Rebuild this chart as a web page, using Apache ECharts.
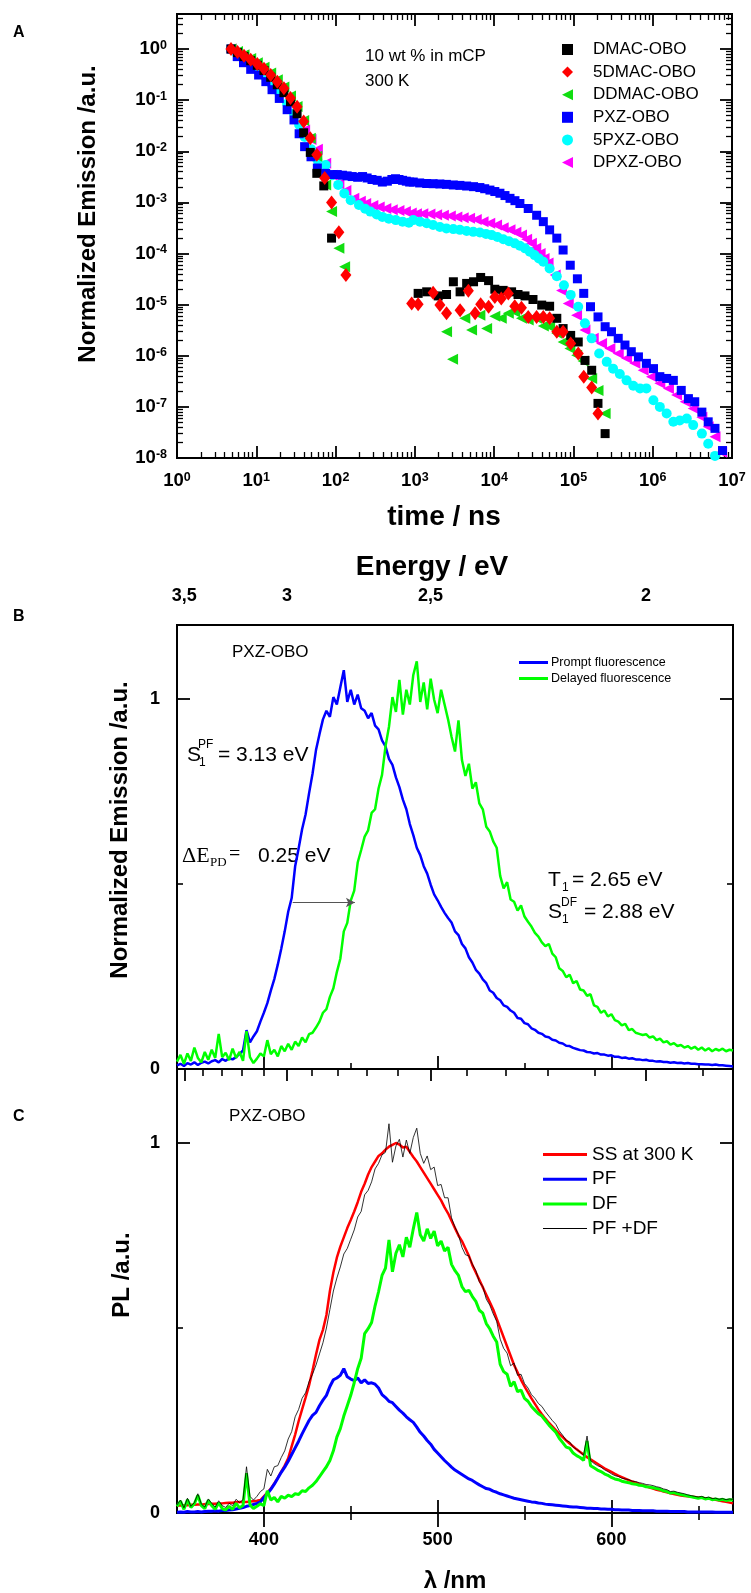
<!DOCTYPE html>
<html>
<head>
<meta charset="utf-8">
<script src="https://cdn.jsdelivr.net/npm/echarts@6.0.0/dist/echarts.min.js"></script>
<style>
html, body { margin: 0; padding: 0; background: #fff; }
#main { width: 751px; height: 1593px; }
</style>
</head>
<body>
<div id="main"></div>
<script>
// ---------- panel A : decay curves (time in ns, normalized emission) ----------
var dmacData = [[4.8,1.0],[5.8,0.85],[7.0,0.71],[8.5,0.59],[10.3,0.48],[12.5,0.38],[15.2,0.28],[18.4,0.20],[22.3,0.14],[27,0.093],[32.7,0.054],[39.6,0.023],[48,0.0095],[58,0.0037],[71,0.0021],[89,0.0002],
  [1100,1.66e-5],[1410,1.78e-5],[1970,1.48e-5],[2510,1.58e-5],[3060,2.8e-5],[3720,1.78e-5],[4500,2.6e-5],[5500,2.8e-5],[6760,3.4e-5],[8510,2.95e-5],[10200,2.0e-5],[13000,1.9e-5],[16600,1.78e-5],[20000,1.58e-5],[24500,1.48e-5],[30900,1.26e-5],[39800,9.8e-6],[50100,9.3e-6],[61700,5.4e-6],[74100,3.4e-6],[92300,2.5e-6],[115000,1.86e-6],[140000,8.1e-7],[170000,5.2e-7],[204000,1.17e-7],[251000,3.0e-8]];
var dmac5Data = [[4.8,1.0],[5.8,0.87],[7.0,0.74],[8.5,0.62],[10.3,0.51],[12.5,0.41],[15.2,0.31],[18.4,0.23],[22.3,0.17],[27,0.11],[32.7,0.074],[39.6,0.038],[48,0.018],[58,0.0085],[73,0.0030],[89,0.0010],[110,0.00026],[135,0.000038],
  [912,1.05e-5],[1100,1.02e-5],[1700,1.7e-5],[2070,9.8e-6],[2510,6.8e-6],[3720,7.8e-6],[4730,1.86e-5],[5750,6.8e-6],[6760,1.02e-5],[8510,9.1e-6],[10200,1.41e-5],[12300,1.32e-5],[15100,1.66e-5],[18200,9.3e-6],[22100,8.7e-6],[26900,5.75e-6],[34300,5.75e-6],[41700,5.75e-6],[50100,5.4e-6],[61700,2.95e-6],[74100,2.95e-6],[92300,1.74e-6],[115000,1.11e-6],[135000,3.9e-7],[170000,2.4e-7],[204000,7.4e-8]];
var ddmacData = [[4.8,1.0],[5.8,0.89],[7.0,0.77],[8.5,0.65],[10.3,0.54],[12.5,0.44],[15.2,0.34],[18.4,0.25],[22.3,0.18],[27,0.12],[32.7,0.075],[39.6,0.040],[48,0.018],[58,0.008],[75,0.0022],[89,0.00066],[110,0.000126],[130,0.000055],
  [2510,2.95e-6],[2990,8.5e-7],[4270,5.4e-6],[5190,3.2e-6],[6610,6.2e-6],[8040,3.4e-6],[10200,5.9e-6],[12300,5.4e-6],[15100,6.8e-6],[18200,7.2e-6],[22100,5.4e-6],[26900,5.0e-6],[34300,5.4e-6],[41700,3.8e-6],[50100,3.7e-6],[61700,2.75e-6],[74100,1.86e-6],[90200,1.38e-6],[110000,1.02e-6],[132000,7.9e-7],[170000,3.6e-7],[204000,2.1e-7],[251000,7.4e-8]];
var pxzData = [[4.8,1.0],[5.75,0.71],[6.9,0.54],[8.5,0.40],[10.7,0.31],[13.2,0.23],[15.8,0.16],[19.5,0.108],[24.5,0.065],[29.9,0.041],[34.7,0.022],[40.7,0.0123],[49,0.0078],[58.9,0.0047],[75,0.0037],[91,0.0035],[105,0.0035],[122,0.0034],[140,0.0033],[162,0.0032],[190,0.0031],[219,0.0032],[250,0.0030],[288,0.0028],[335,0.0027],[389,0.0025],[450,0.0026],[513,0.0028],[570,0.0029],[631,0.0028],[700,0.0027],[780,0.0026],[860,0.0025],[955,0.0025],[1150,0.0024],[1410,0.00234],[1700,0.00232],[2070,0.00229],[2500,0.00225],[3055,0.00219],[3700,0.00215],[4500,0.00209],[5500,0.00203],[6610,0.00195],[7600,0.00185],[8850,0.00174],[10200,0.00163],[11830,0.00151],[13700,0.00136],[15850,0.0012],[18300,0.00108],[21130,0.00095],[26900,0.00076],[34360,0.00056],[41700,0.00042],[50100,0.00029],[61700,0.0002],[74100,0.000117],[91200,5.9e-5],[112200,3.2e-5],[134900,1.66e-5],[164100,9.1e-6],[204200,5.75e-6],[251200,3.7e-6],[302000,2.95e-6],[367300,2.19e-6],[446700,1.62e-6],[537000,1.2e-6],[660700,9.5e-7],[831800,7.1e-7],[1023000,5.6e-7],[1230000,3.9e-7],[1500000,3.6e-7],[1820000,3.3e-7],[2290000,2.1e-7],[2820000,1.45e-7],[3390000,1.26e-7],[4170000,7.9e-8],[5010000,5.1e-8],[6100000,3.8e-8],[7590000,1.4e-8]];
var pxz5Data = [[4.8,1.0],[5.75,0.80],[6.9,0.64],[8.5,0.50],[10.7,0.38],[13.2,0.28],[15.8,0.20],[19.5,0.14],[24.5,0.085],[29.9,0.055],[34.7,0.033],[40.7,0.019],[49,0.011],[58.9,0.0068],[75,0.0054],[91,0.0034],[108,0.0022],[129,0.0015],[155,0.0011],[197,0.00089],[236,0.00075],[275,0.00066],[330,0.00058],[389,0.00052],[470,0.00048],[575,0.00045],[700,0.00042],[841,0.0004],[955,0.00045],[1160,0.00042],[1410,0.00039],[1700,0.00036],[2070,0.00033],[2500,0.00031],[3055,0.0003],[3700,0.00029],[4500,0.000275],[5450,0.000265],[6610,0.000257],[7900,0.000242],[9330,0.000229],[11000,0.00021],[13030,0.00019],[15400,0.000174],[18200,0.000158],[21100,0.000142],[24550,0.000126],[28200,0.000108],[32360,9.3e-5],[36700,8.0e-5],[41700,6.9e-5],[50100,5.1e-5],[61700,3.6e-5],[75900,2.4e-5],[92300,1.55e-5],[114800,9.1e-6],[139600,4.3e-6],[169800,2.19e-6],[211300,1.11e-6],[263000,7.6e-7],[316200,5.6e-7],[384600,4.4e-7],[467700,3.3e-7],[568900,2.6e-7],[691800,2.3e-7],[831800,2.3e-7],[1020000,1.35e-7],[1230000,1.0e-7],[1500000,7.4e-8],[1820000,5.1e-8],[2190000,5.4e-8],[2690000,5.9e-8],[3240000,4.4e-8],[4170000,3.0e-8],[5010000,1.9e-8],[6100000,1.1e-8]];
var dpxzData = [[4.8,1.0],[5.75,0.82],[6.9,0.66],[8.5,0.52],[10.7,0.40],[13.2,0.30],[15.8,0.22],[19.5,0.15],[24.5,0.092],[29.9,0.06],[34.7,0.036],[40.7,0.026],[49,0.017],[58.9,0.011],[75,0.0058],[91,0.0034],[110,0.0023],[135,0.0017],[170,0.0012],[205,0.00105],[240,0.00095],[295,0.00087],[355,0.00081],[430,0.00076],[519,0.00072],[630,0.00069],[759,0.00066],[900,0.00062],[1047,0.0006],[1260,0.0006],[1549,0.00059],[1880,0.00057],[2291,0.00056],[2800,0.00054],[3388,0.00052],[4070,0.0005],[4898,0.00049],[5950,0.00046],[7244,0.00042],[8800,0.00039],[10720,0.00036],[13000,0.00032],[15850,0.00029],[18800,0.00026],[22130,0.00023],[25700,0.00019],[29510,0.000158],[33500,0.000127],[38020,0.0001],[42600,8.0e-5],[47860,6.5e-5],[58880,3.8e-5],[70790,1.9e-5],[86100,1.05e-5],[109600,6.2e-6],[139600,3.2e-6],[177800,2.19e-6],[226500,1.74e-6],[288400,1.38e-6],[367300,1.11e-6],[467700,8.9e-7],[595700,7.1e-7],[758600,5.2e-7],[966100,3.9e-7],[1230000,2.9e-7],[1580000,2.3e-7],[2000000,1.7e-7],[2570000,1.26e-7],[3240000,9.3e-8],[4170000,6.3e-8],[5010000,4.1e-8],[6100000,2.6e-8],[7410000,1.3e-8]];

var timeDecades = [1, 10, 100, 1000, 1e4, 1e5, 1e6, 1e7];
var emisDecades = [1e-8, 1e-7, 1e-6, 1e-5, 1e-4, 1e-3, 1e-2, 1e-1, 1];

// ---------- panels B and C : spectra (wavelength in nm) ----------
var wl = [350,352,354,356,358,360,362,364,366,368,
  370,372,374,376,378,380,382,384,386,388,
  390,392,394,396,398,400,402,404,406,408,
  410,412,414,416,418,420,422,424,426,428,
  430,432,434,436,438,440,442,444,446,448,
  450,452,454,456,458,460,462,464,466,468,
  470,472,474,476,478,480,482,484,486,488,
  490,492,494,496,498,500,502,504,506,508,
  510,512,514,516,518,520,522,524,526,528,
  530,532,534,536,538,540,542,544,546,548,
  550,552,554,556,558,560,562,564,566,568,
  570,572,574,576,578,580,582,584,586,588,
  590,592,594,596,598,600,602,604,606,608,
  610,612,614,616,618,620,622,624,626,628,
  630,632,634,636,638,640,642,644,646,648,
  650,652,654,656,658,660,662,664,666,668,
  670];

var promptB = [0.010,0.014,0.008,0.016,0.012,0.018,0.011,0.017,0.020,0.015,
  0.021,0.024,0.018,0.027,0.022,0.029,0.026,0.032,0.041,0.050,
  0.105,0.072,0.088,0.102,0.128,0.152,0.178,0.212,0.243,0.282,
  0.325,0.372,0.425,0.462,0.548,0.596,0.648,0.688,0.745,0.798,
  0.862,0.905,0.945,0.968,0.952,1.005,0.985,1.032,1.078,0.992,
  1.025,0.985,1.012,0.975,0.968,0.948,0.962,0.928,0.918,0.888,
  0.872,0.838,0.822,0.788,0.762,0.728,0.702,0.662,0.632,0.598,
  0.578,0.548,0.528,0.498,0.472,0.456,0.438,0.422,0.408,0.396,
  0.372,0.362,0.338,0.326,0.302,0.288,0.268,0.258,0.242,0.232,
  0.212,0.206,0.192,0.186,0.172,0.168,0.158,0.152,0.138,0.136,
  0.124,0.121,0.110,0.106,0.098,0.095,0.088,0.086,0.079,0.077,
  0.071,0.069,0.063,0.062,0.057,0.054,0.051,0.050,0.046,0.045,
  0.042,0.043,0.039,0.039,0.036,0.037,0.033,0.033,0.030,0.031,
  0.028,0.029,0.026,0.026,0.024,0.025,0.022,0.022,0.020,0.021,
  0.019,0.019,0.017,0.018,0.016,0.017,0.015,0.016,0.014,0.014,
  0.013,0.013,0.012,0.012,0.011,0.012,0.010,0.010,0.009,0.008,
  0.007];
var delayedB = [0.020,0.038,0.014,0.042,0.022,0.058,0.030,0.018,0.046,0.025,
  0.052,0.030,0.095,0.032,0.044,0.024,0.055,0.030,0.046,0.022,
  0.102,0.032,0.016,0.028,0.042,0.034,0.078,0.040,0.052,0.034,
  0.062,0.048,0.068,0.052,0.074,0.062,0.085,0.072,0.094,0.098,
  0.112,0.128,0.152,0.162,0.195,0.218,0.262,0.298,0.372,0.395,
  0.455,0.482,0.558,0.592,0.628,0.645,0.692,0.702,0.758,0.795,
  0.872,0.925,1.005,0.965,1.052,0.958,1.025,0.985,1.065,1.102,
  0.992,1.045,0.972,1.055,0.998,0.962,1.025,0.985,0.945,0.898,
  0.858,0.942,0.835,0.792,0.825,0.758,0.775,0.718,0.702,0.655,
  0.642,0.615,0.598,0.522,0.488,0.505,0.458,0.452,0.428,0.442,
  0.412,0.398,0.385,0.368,0.358,0.342,0.332,0.338,0.312,0.302,
  0.272,0.265,0.248,0.255,0.232,0.238,0.215,0.212,0.198,0.202,
  0.172,0.168,0.152,0.158,0.142,0.148,0.132,0.128,0.118,0.122,
  0.105,0.108,0.098,0.095,0.092,0.094,0.085,0.088,0.078,0.082,
  0.072,0.075,0.066,0.070,0.062,0.065,0.058,0.062,0.055,0.060,
  0.052,0.058,0.050,0.056,0.048,0.054,0.050,0.055,0.048,0.052,
  0.050];

var steadyC = [0.020,0.020,0.021,0.021,0.022,0.022,0.023,0.023,0.024,0.024,
  0.025,0.025,0.026,0.026,0.027,0.028,0.028,0.029,0.030,0.030,
  0.030,0.031,0.032,0.033,0.035,0.045,0.055,0.066,0.080,0.095,
  0.112,0.128,0.148,0.180,0.212,0.248,0.280,0.312,0.345,0.385,
  0.428,0.468,0.495,0.535,0.600,0.650,0.690,0.720,0.745,0.770,
  0.792,0.815,0.840,0.868,0.890,0.915,0.935,0.950,0.965,0.972,
  0.982,0.990,0.995,1.000,0.996,0.988,0.990,0.976,0.962,0.950,
  0.935,0.920,0.905,0.890,0.875,0.860,0.845,0.826,0.810,0.790,
  0.770,0.750,0.735,0.715,0.695,0.670,0.650,0.630,0.610,0.590,
  0.570,0.550,0.525,0.500,0.475,0.450,0.425,0.400,0.380,0.360,
  0.342,0.326,0.310,0.295,0.280,0.267,0.255,0.244,0.234,0.224,
  0.214,0.205,0.196,0.188,0.180,0.172,0.165,0.158,0.151,0.145,
  0.139,0.133,0.127,0.121,0.116,0.111,0.106,0.101,0.097,0.093,
  0.089,0.085,0.082,0.078,0.075,0.072,0.069,0.066,0.063,0.061,
  0.058,0.056,0.053,0.051,0.049,0.047,0.046,0.045,0.044,0.043,
  0.042,0.041,0.040,0.039,0.038,0.036,0.034,0.032,0.030,0.028,
  0.026];
var promptC = [0.002,0.003,0.002,0.004,0.003,0.003,0.004,0.003,0.004,0.005,
  0.005,0.006,0.005,0.007,0.007,0.008,0.009,0.011,0.013,0.015,
  0.018,0.020,0.023,0.026,0.030,0.042,0.052,0.064,0.078,0.094,
  0.110,0.124,0.140,0.158,0.176,0.194,0.214,0.232,0.250,0.264,
  0.272,0.290,0.305,0.318,0.342,0.360,0.365,0.372,0.390,0.368,
  0.362,0.358,0.365,0.352,0.360,0.350,0.352,0.348,0.338,0.320,
  0.312,0.302,0.298,0.288,0.278,0.270,0.260,0.252,0.245,0.232,
  0.218,0.208,0.196,0.186,0.172,0.162,0.152,0.142,0.133,0.124,
  0.116,0.110,0.104,0.098,0.092,0.088,0.082,0.076,0.071,0.066,
  0.064,0.059,0.056,0.052,0.049,0.046,0.043,0.040,0.038,0.036,
  0.034,0.032,0.030,0.029,0.027,0.026,0.024,0.023,0.022,0.021,
  0.020,0.019,0.018,0.017,0.016,0.016,0.015,0.014,0.013,0.013,
  0.012,0.012,0.011,0.011,0.010,0.010,0.009,0.009,0.008,0.008,
  0.008,0.007,0.007,0.007,0.006,0.006,0.006,0.006,0.005,0.005,
  0.005,0.005,0.004,0.004,0.004,0.004,0.004,0.003,0.003,0.003,
  0.003,0.003,0.003,0.003,0.003,0.002,0.002,0.002,0.002,0.002,
  0.002];
var delayedC = [0.018,0.032,0.010,0.036,0.015,0.025,0.048,0.020,0.012,0.034,
  0.020,0.010,0.028,0.012,0.008,0.018,0.010,0.026,0.014,0.020,
  0.108,0.022,0.012,0.018,0.025,0.020,0.060,0.035,0.042,0.030,
  0.045,0.040,0.048,0.044,0.052,0.050,0.060,0.058,0.068,0.075,
  0.085,0.098,0.112,0.125,0.142,0.168,0.205,0.228,0.262,0.290,
  0.318,0.352,0.390,0.418,0.485,0.498,0.515,0.560,0.598,0.642,
  0.662,0.738,0.652,0.702,0.725,0.692,0.745,0.718,0.768,0.812,
  0.752,0.735,0.768,0.742,0.762,0.722,0.735,0.708,0.718,0.672,
  0.655,0.642,0.612,0.598,0.602,0.585,0.572,0.548,0.540,0.512,
  0.498,0.478,0.462,0.402,0.382,0.375,0.342,0.355,0.328,0.332,
  0.310,0.302,0.288,0.278,0.268,0.262,0.250,0.238,0.228,0.218,
  0.202,0.190,0.178,0.175,0.162,0.155,0.150,0.142,0.195,0.128,
  0.122,0.116,0.112,0.106,0.102,0.096,0.092,0.090,0.086,0.084,
  0.082,0.079,0.078,0.075,0.074,0.071,0.070,0.068,0.066,0.064,
  0.060,0.058,0.054,0.055,0.052,0.050,0.048,0.046,0.044,0.042,
  0.040,0.042,0.038,0.040,0.036,0.038,0.035,0.037,0.034,0.036,
  0.035];
var sumC = [0.022,0.035,0.014,0.040,0.018,0.028,0.052,0.024,0.016,0.038,
  0.026,0.016,0.033,0.020,0.015,0.026,0.020,0.037,0.028,0.036,
  0.125,0.045,0.035,0.045,0.058,0.065,0.118,0.100,0.125,0.128,
  0.150,0.168,0.200,0.220,0.260,0.280,0.310,0.325,0.355,0.375,
  0.400,0.430,0.460,0.500,0.550,0.600,0.635,0.665,0.700,0.715,
  0.740,0.765,0.800,0.815,0.860,0.872,0.895,0.930,0.945,0.968,
  0.975,1.052,0.948,0.992,1.010,0.962,1.008,0.972,1.015,1.040,
  0.972,0.945,0.965,0.928,0.935,0.885,0.888,0.852,0.852,0.798,
  0.772,0.752,0.718,0.698,0.695,0.672,0.655,0.625,0.612,0.578,
  0.562,0.538,0.518,0.470,0.445,0.432,0.398,0.405,0.372,0.375,
  0.350,0.338,0.320,0.310,0.296,0.288,0.274,0.262,0.250,0.240,
  0.222,0.210,0.196,0.192,0.178,0.172,0.165,0.156,0.208,0.142,
  0.134,0.128,0.124,0.117,0.112,0.106,0.101,0.099,0.094,0.092,
  0.090,0.086,0.085,0.082,0.080,0.077,0.076,0.074,0.071,0.069,
  0.065,0.063,0.058,0.059,0.056,0.054,0.052,0.049,0.047,0.045,
  0.043,0.045,0.041,0.043,0.039,0.040,0.037,0.039,0.036,0.038,
  0.037];

var wlMajor = [400, 500, 600];
var wlMinor = [450, 550, 650];
var energyMajor = [3.5, 3, 2.5, 2];
var energyMinor = [3.4, 3.3, 3.2, 3.1, 2.9, 2.8, 2.7, 2.6, 2.4, 2.3, 2.2, 2.1, 1.9];
var normMajor = [0, 1];
var normMinor = [0.5];
var arrowFrom = [416.6, 0.45];
var arrowTo = [452.4, 0.45];

// ---------- helpers ----------
var SANS = "'Liberation Sans', Arial, Helvetica, sans-serif";
var SERIF = "'Liberation Serif', 'Times New Roman', serif";
var HC = 1239.84; // eV*nm
var LEFT_TRI = 'path://M0,5L10,0L10,10Z';
// thin legend stroke: a 44x3 box whose filled band is 1px high
var THIN_LINE = 'path://M0,0L0.01,0L0,0.01Z M0,1L44,1L44,2L0,2Z M43.99,3L44,3L44,2.99Z';

function pairs(xs, ys) {
  return xs.map(function (x, i) { return [x, ys[i]]; });
}
function logMinor(d0, d1) {
  var out = [];
  for (var d = d0; d <= d1; d++) {
    for (var k = 2; k <= 9; k++) out.push(k * Math.pow(10, d));
  }
  return out;
}
function tickAxis(grid, pos, type, min, max, ticks, len, width) {
  var a = {
    type: type, gridIndex: grid, position: pos, min: min, max: max,
    axisLine: { show: false }, splitLine: { show: false },
    axisLabel: { show: false },
    axisTick: { show: true, inside: true, length: len, customValues: ticks,
      lineStyle: { color: '#000', width: width } }
  };
  if (type === 'log') a.logBase = 10;
  return a;
}
var richPow = {
  b: { fontSize: 18.5, fontWeight: 'bold', fontFamily: SANS, color: '#000', lineHeight: 20 },
  s: { fontSize: 12.5, fontWeight: 'bold', fontFamily: SANS, color: '#000', verticalAlign: 'top', lineHeight: 12 }
};
function powLabel(v) {
  return '{b|10}{s|' + Math.round(Math.log10(v)) + '}';
}
var boldLabel = { show: true, fontSize: 18, fontWeight: 'bold', fontFamily: SANS, color: '#000' };

// ---------- axes ----------
var xA = tickAxis(0, 'bottom', 'log', 1, 1e7, timeDecades, 12, 1.8);
xA.axisLabel = { show: true, customValues: timeDecades, margin: 13, formatter: powLabel, rich: richPow };
var yA = tickAxis(0, 'left', 'log', 1e-8, 4.84, emisDecades, 12, 1.8);
yA.axisLabel = { show: true, customValues: emisDecades, margin: 10, formatter: powLabel, rich: richPow };

var xBtop = tickAxis(1, 'top', 'value', 350, 670, energyMajor.map(function (e) { return HC / e; }), 12, 1.8);
xBtop.axisLabel = Object.assign({}, boldLabel, {
  customValues: energyMajor.map(function (e) { return HC / e; }), margin: 20,
  formatter: function (v) { return String(Math.round(HC / v * 10) / 10).replace('.', ','); }
});
var yB = tickAxis(1, 'left', 'value', 0, 1.2, normMajor, 13, 1.8);
yB.axisLabel = Object.assign({}, boldLabel, { customValues: normMajor, margin: 17 });
var xC = tickAxis(2, 'bottom', 'value', 350, 670, wlMajor, 13, 1.8);
xC.axisLabel = Object.assign({}, boldLabel, { customValues: wlMajor, margin: 18 });
var yC = tickAxis(2, 'left', 'value', 0, 1.2, normMajor, 13, 1.8);
yC.axisLabel = Object.assign({}, boldLabel, { customValues: normMajor, margin: 17 });

var xAxes = [
  xA,
  tickAxis(0, 'bottom', 'log', 1, 1e7, logMinor(0, 6), 6, 1.3),
  tickAxis(0, 'top', 'log', 1, 1e7, timeDecades, 12, 1.8),
  tickAxis(0, 'top', 'log', 1, 1e7, logMinor(0, 6), 6, 1.3),
  tickAxis(1, 'bottom', 'value', 350, 670, wlMajor, 13, 1.8),
  tickAxis(1, 'bottom', 'value', 350, 670, wlMinor, 6, 1.6),
  xBtop,
  tickAxis(1, 'top', 'value', 350, 670, energyMinor.map(function (e) { return HC / e; }), 7, 1.6),
  xC,
  tickAxis(2, 'bottom', 'value', 350, 670, wlMinor, 7, 1.6),
  tickAxis(2, 'top', 'value', 350, 670, wlMajor, 14, 1.8),
  tickAxis(2, 'top', 'value', 350, 670, wlMinor, 7, 1.6)
];
var yAxes = [
  yA,
  tickAxis(0, 'left', 'log', 1e-8, 4.84, logMinor(-8, 0), 6, 1.3),
  tickAxis(0, 'right', 'log', 1e-8, 4.84, emisDecades, 12, 1.8),
  tickAxis(0, 'right', 'log', 1e-8, 4.84, logMinor(-8, 0), 6, 1.3),
  yB,
  tickAxis(1, 'left', 'value', 0, 1.2, normMinor, 6, 1.6),
  tickAxis(1, 'right', 'value', 0, 1.2, normMajor, 13, 1.8),
  tickAxis(1, 'right', 'value', 0, 1.2, normMinor, 6, 1.6),
  yC,
  tickAxis(2, 'left', 'value', 0, 1.2, normMinor, 6, 1.6),
  tickAxis(2, 'right', 'value', 0, 1.2, normMajor, 13, 1.8),
  tickAxis(2, 'right', 'value', 0, 1.2, normMinor, 6, 1.6)
];

// ---------- series ----------
function scatterA(name, data, symbol, size, color, rotate) {
  return {
    name: name, type: 'scatter', xAxisIndex: 0, yAxisIndex: 0, data: data,
    symbol: symbol, symbolSize: size, symbolRotate: rotate || 0,
    itemStyle: { color: color, opacity: 1 }, silent: true
  };
}
function lineS(name, xi, yi, ys, color, width) {
  return {
    name: name, type: 'line', xAxisIndex: xi, yAxisIndex: yi, data: pairs(wl, ys),
    symbol: 'none', showSymbol: false, silent: true,
    lineStyle: { color: color, width: width }, itemStyle: { color: color }
  };
}

var promptSeries = lineS('Prompt fluorescence', 4, 4, promptB, '#0000ff', 2.5);
promptSeries.markLine = {
  silent: true, animation: false, symbol: ['none', 'arrow'], symbolSize: [7, 9],
  label: { show: false }, lineStyle: { color: '#555', width: 1, type: 'solid' },
  data: [[{ coord: arrowFrom }, { coord: arrowTo }]]
};

var series = [
  scatterA('DPXZ-OBO', dpxzData, 'triangle', 11, '#ff00ff', 90),
  scatterA('5PXZ-OBO', pxz5Data, 'circle', 10, '#00ffff'),
  scatterA('PXZ-OBO', pxzData, 'rect', 9, '#0000ff'),
  scatterA('DDMAC-OBO', ddmacData, 'triangle', 11, '#11dd11', 90),
  scatterA('DMAC-OBO', dmacData, 'rect', 9, '#000000'),
  scatterA('5DMAC-OBO', dmac5Data, 'diamond', [11, 14], '#ff0000'),
  promptSeries,
  lineS('Delayed fluorescence', 4, 4, delayedB, '#00ff00', 2.5),
  lineS('SS at 300 K', 8, 8, steadyC, '#ff0000', 2.5),
  lineS('PF', 8, 8, promptC, '#0000ff', 3),
  lineS('DF', 8, 8, delayedC, '#00ff00', 3),
  lineS('PF +DF', 8, 8, sumC, '#000000', 0.8)
];

// ---------- text ----------
function txt(text, x, y, size, opts) {
  opts = opts || {};
  return {
    type: 'text', x: x, y: y, rotation: opts.rotation || 0, silent: true,
    style: {
      text: text, fill: '#000', fontSize: size, fontWeight: opts.bold ? 'bold' : 'normal',
      fontFamily: opts.family || SANS, align: opts.align || 'left', verticalAlign: 'middle'
    }
  };
}

var graphics = [
  txt('A', 13, 33, 16, { bold: true }),
  txt('B', 13, 617, 16, { bold: true }),
  txt('C', 13, 1117, 16, { bold: true }),
  txt('10 wt % in mCP', 365, 56, 17),
  txt('300 K', 365, 81, 17),
  txt('PXZ-OBO', 232, 652, 17),
  txt('PXZ-OBO', 229, 1116, 17),
  txt('S', 187, 755, 21),
  txt('PF', 198, 745, 12),
  txt('1', 199, 763, 12),
  txt('= 3.13 eV', 218, 755, 21),
  txt('\u0394E', 182, 856, 22, { family: SERIF }),
  txt('PD', 210, 863, 13, { family: SERIF }),
  txt('=', 229, 855, 20, { family: SERIF }),
  txt('0.25 eV', 258, 856, 21),
  txt('T', 548, 880, 21),
  txt('1', 562, 888, 12),
  txt('= 2.65 eV', 572, 880, 21),
  txt('S', 548, 912, 21),
  txt('DF', 561, 903, 12),
  txt('1', 562, 920, 12),
  txt('= 2.88 eV', 584, 912, 21),
  txt('Normalized Emission /a.u.', 88, 214, 24, { bold: true, align: 'center', rotation: Math.PI / 2 }),
  txt('Normalized Emission /a.u.', 120, 830, 24, { bold: true, align: 'center', rotation: Math.PI / 2 }),
  txt('PL /a.u.', 122, 1275, 24, { bold: true, align: 'center', rotation: Math.PI / 2 }),
  txt('time / ns', 444, 517, 28, { bold: true, align: 'center' }),
  txt('Energy / eV', 432, 567, 28, { bold: true, align: 'center' }),
  txt('\u03bb /nm', 455, 1581, 24, { bold: true, align: 'center' })
];

var option = {
  animation: false,
  backgroundColor: '#fff',
  textStyle: { fontFamily: SANS },
  grid: [
    { left: 177, top: 14, width: 555, height: 444, show: true, borderColor: '#000', borderWidth: 2, backgroundColor: 'transparent' },
    { left: 177, top: 625, width: 556, height: 444, show: true, borderColor: '#000', borderWidth: 2, backgroundColor: 'transparent' },
    { left: 177, top: 1069, width: 556, height: 444, show: true, borderColor: '#000', borderWidth: 2, backgroundColor: 'transparent' }
  ],
  legend: [
    {
      data: ['DMAC-OBO', '5DMAC-OBO', { name: 'DDMAC-OBO', icon: LEFT_TRI }, 'PXZ-OBO', '5PXZ-OBO', { name: 'DPXZ-OBO', icon: LEFT_TRI }],
      orient: 'vertical', left: 557, top: 36, itemWidth: 11, itemHeight: 11, itemGap: 5.6,
      selectedMode: false,
      textStyle: { fontSize: 17, lineHeight: 17, color: '#000', fontFamily: SANS, padding: [0, 0, 0, 15] }
    },
    {
      data: [{ name: 'Prompt fluorescence', icon: 'rect' }, { name: 'Delayed fluorescence', icon: 'rect' }],
      orient: 'vertical', left: 514, top: 651, itemWidth: 29, itemHeight: 3, itemGap: 3,
      selectedMode: false,
      textStyle: { fontSize: 12.5, lineHeight: 12, color: '#000', fontFamily: SANS, padding: [0, 0, 0, -2] }
    },
    {
      data: [{ name: 'SS at 300 K', icon: 'rect' }, { name: 'PF', icon: 'rect' },
             { name: 'DF', icon: 'rect' }, { name: 'PF +DF', icon: THIN_LINE }],
      orient: 'vertical', left: 538, top: 1140, itemWidth: 44, itemHeight: 3, itemGap: 5.7,
      selectedMode: false,
      textStyle: { fontSize: 19, lineHeight: 19, color: '#000', fontFamily: SANS }
    }
  ],
  xAxis: xAxes,
  yAxis: yAxes,
  series: series,
  graphic: graphics
};

var chart = echarts.init(document.getElementById('main'), null, { renderer: 'canvas' });
chart.setOption(option);
</script>
</body>
</html>
